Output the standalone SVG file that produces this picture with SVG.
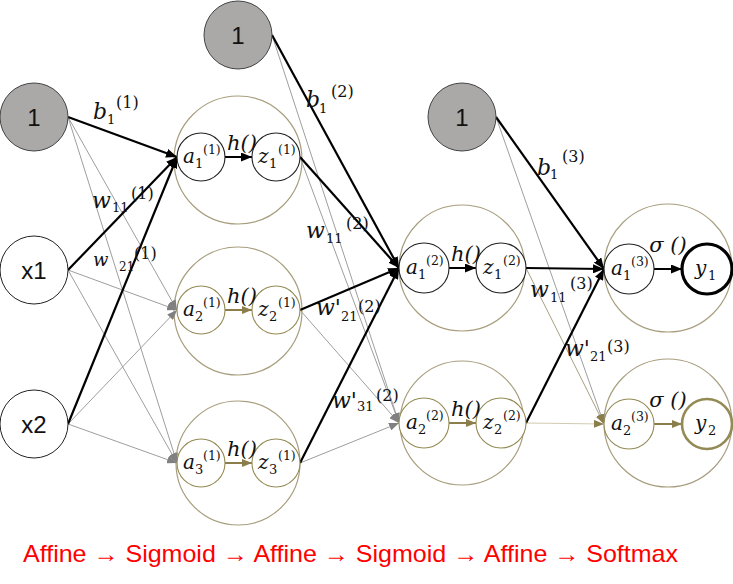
<svg xmlns="http://www.w3.org/2000/svg" width="733" height="584" viewBox="0 0 733 584">
<style>
.bg{fill:#fff}
.in{fill:#fff;stroke:#222;stroke-width:1}
.gr{fill:#ABA8A8;stroke:#444;stroke-width:1}
.big{fill:none;stroke:#A89E7E;stroke-width:1.2}
.ib{fill:#fff;stroke:#222;stroke-width:1.1}
.io{fill:#fff;stroke:#948A54;stroke-width:1.1}
.yb{fill:#fff;stroke:#000;stroke-width:3.2}
.yo{fill:#fff;stroke:#948A54;stroke-width:2.6}
.kb{stroke:#000;stroke-width:2.2;fill:none}
.kg{stroke:#9E9E9E;stroke-width:1;fill:none}
.kt{stroke:#A89E7E;stroke-width:1;fill:none}
.kl{stroke:#D2CBB2;stroke-width:1;fill:none}
.ab{stroke:#000;stroke-width:2;fill:none}
.ao{stroke:#8C7E4B;stroke-width:2;fill:none}
.nt{font-family:"Liberation Sans","Noto Sans",sans-serif;font-size:24px;fill:#111;text-anchor:middle}
.v{font-family:"DejaVu Serif",serif;font-style:italic;font-size:22px;fill:#111}
.vs{font-family:"DejaVu Serif",serif;font-style:italic;font-size:18px;fill:#111}
.va{font-family:"DejaVu Serif",serif;font-style:italic;font-size:20px;fill:#111}
.s{font-family:"DejaVu Serif",serif;font-size:13px;fill:#111}
.ss{font-family:"DejaVu Serif",serif;font-size:12px;fill:#111}
.p{font-family:"DejaVu Serif",serif;font-size:16px;fill:#111}
.pi{font-family:"DejaVu Serif",serif;font-size:12.5px;fill:#111}
.si{font-family:"DejaVu Serif",serif;font-size:13px;fill:#111}
.fn{font-family:"DejaVu Serif",serif;font-style:italic;font-size:21px;fill:#111;text-anchor:middle}
.cap{font-family:"Liberation Sans","Noto Sans",sans-serif;font-size:24px;fill:#FF0000}
</style>
<defs>
<marker id="mb" markerUnits="userSpaceOnUse" markerWidth="11" markerHeight="9" refX="11" refY="4.5" orient="auto"><path d="M0,0 L11,4.5 L0,9 z" fill="#000"/></marker>
<marker id="mg" markerUnits="userSpaceOnUse" markerWidth="10" markerHeight="8" refX="10" refY="4" orient="auto"><path d="M0,0 L10,4 L0,8 z" fill="#808080"/></marker>
<marker id="mo" markerUnits="userSpaceOnUse" markerWidth="10" markerHeight="8" refX="10" refY="4" orient="auto"><path d="M0,0 L10,4 L0,8 z" fill="#8C7E4B"/></marker>
</defs>
<rect class="bg" x="0" y="0" width="733" height="584"/>

<g id="layer-circles">
<circle class="big" cx="238" cy="160" r="64"/>
<circle class="big" cx="238" cy="311" r="64"/>
<circle class="big" cx="238" cy="463" r="62"/>
<circle class="big" cx="462" cy="268" r="63"/>
<circle class="big" cx="462" cy="423" r="62"/>
<circle class="big" cx="668" cy="268" r="64"/>
<circle class="big" cx="668" cy="423" r="64"/>
</g>

<g id="connectors">
<line class="kg" x1="68" y1="117" x2="177" y2="310" marker-end="url(#mg)"/>
<line class="kg" x1="68" y1="117" x2="177" y2="463" marker-end="url(#mg)"/>
<line class="kg" x1="68" y1="270" x2="177" y2="310" marker-end="url(#mg)"/>
<line class="kg" x1="68" y1="270" x2="177" y2="463" marker-end="url(#mg)"/>
<line class="kg" x1="68" y1="424" x2="177" y2="310" marker-end="url(#mg)"/>
<line class="kg" x1="68" y1="424" x2="177" y2="463" marker-end="url(#mg)"/>
<line class="kb" x1="68" y1="117" x2="177" y2="157" marker-end="url(#mb)"/>
<line class="kb" x1="68" y1="270" x2="177" y2="157" marker-end="url(#mb)"/>
<line class="kb" x1="68" y1="424" x2="177" y2="157" marker-end="url(#mb)"/>
<line class="kg" x1="272" y1="35" x2="399" y2="423" marker-end="url(#mg)"/>
<line class="kg" x1="300" y1="157" x2="399" y2="423" marker-end="url(#mg)"/>
<line class="kg" x1="300" y1="310" x2="399" y2="423" marker-end="url(#mg)"/>
<line class="kg" x1="300" y1="463" x2="399" y2="423" marker-end="url(#mg)"/>
<line class="kb" x1="272" y1="35" x2="399" y2="268" marker-end="url(#mb)"/>
<line class="kb" x1="300" y1="157" x2="399" y2="268" marker-end="url(#mb)"/>
<line class="kb" x1="300" y1="310" x2="399" y2="268" marker-end="url(#mb)"/>
<line class="kb" x1="300" y1="463" x2="399" y2="268" marker-end="url(#mb)"/>
<line class="kg" x1="496" y1="117" x2="604" y2="424" marker-end="url(#mg)"/>
<line class="kt" x1="526" y1="268" x2="604" y2="424" marker-end="url(#mo)"/>
<line class="kl" x1="526" y1="423" x2="604" y2="424" marker-end="url(#mo)"/>
<line class="kb" x1="496" y1="117" x2="604" y2="269" marker-end="url(#mb)"/>
<line class="kb" x1="526" y1="268" x2="604" y2="269" marker-end="url(#mb)"/>
<line class="kb" x1="526" y1="423" x2="604" y2="269" marker-end="url(#mb)"/>
<line class="ab" x1="225" y1="157" x2="252" y2="157" marker-end="url(#mb)"/>
<line class="ao" x1="225" y1="310" x2="252" y2="310" marker-end="url(#mo)"/>
<line class="ao" x1="225" y1="463" x2="252" y2="463" marker-end="url(#mo)"/>
<line class="ab" x1="449" y1="268" x2="476" y2="268" marker-end="url(#mb)"/>
<line class="ao" x1="449" y1="423" x2="476" y2="423" marker-end="url(#mo)"/>
<line class="ab" x1="654" y1="269" x2="682" y2="269" marker-end="url(#mb)"/>
<line class="ao" x1="654" y1="424" x2="682" y2="424" marker-end="url(#mo)"/>
</g>

<g id="bias0"><circle class="gr" cx="34" cy="117" r="34"/><text class="nt" x="34" y="126">1</text></g>
<g id="x1"><circle class="in" cx="34" cy="270" r="34"/><text class="nt" x="34" y="279">x1</text></g>
<g id="x2"><circle class="in" cx="34" cy="424" r="34"/><text class="nt" x="34" y="433">x2</text></g>
<g id="bias1"><circle class="gr" cx="238" cy="35" r="34"/><text class="nt" x="238" y="44">1</text></g>
<g id="bias2"><circle class="gr" cx="462" cy="117" r="34"/><text class="nt" x="462" y="126">1</text></g>

<g id="a1_1"><circle class="ib" cx="201" cy="157" r="24"/><text><tspan class="va" x="183" y="163">a</tspan><tspan class="si" x="195" y="168">1</tspan><tspan class="pi" x="203" y="154">(1)</tspan></text></g>
<g id="z1_1"><circle class="ib" cx="276" cy="157" r="24"/><text><tspan class="va" x="258" y="163">z</tspan><tspan class="si" x="269" y="168">1</tspan><tspan class="pi" x="278" y="154">(1)</tspan></text></g>
<text class="fn" x="242" y="150">h()</text>
<g id="a2_1"><circle class="io" cx="201" cy="310" r="24"/><text><tspan class="va" x="183" y="316">a</tspan><tspan class="si" x="195" y="321">2</tspan><tspan class="pi" x="203" y="307">(1)</tspan></text></g>
<g id="z2_1"><circle class="io" cx="276" cy="310" r="24"/><text><tspan class="va" x="258" y="316">z</tspan><tspan class="si" x="269" y="321">2</tspan><tspan class="pi" x="278" y="307">(1)</tspan></text></g>
<text class="fn" x="242" y="303">h()</text>
<g id="a3_1"><circle class="io" cx="201" cy="463" r="24"/><text><tspan class="va" x="183" y="469">a</tspan><tspan class="si" x="195" y="474">3</tspan><tspan class="pi" x="203" y="460">(1)</tspan></text></g>
<g id="z3_1"><circle class="io" cx="276" cy="463" r="24"/><text><tspan class="va" x="258" y="469">z</tspan><tspan class="si" x="269" y="474">3</tspan><tspan class="pi" x="278" y="460">(1)</tspan></text></g>
<text class="fn" x="242" y="456">h()</text>

<g id="a1_2"><circle class="ib" cx="424" cy="268" r="25"/><text><tspan class="va" x="406" y="274">a</tspan><tspan class="si" x="418" y="279">1</tspan><tspan class="pi" x="426" y="265">(2)</tspan></text></g>
<g id="z1_2"><circle class="ib" cx="501" cy="268" r="25"/><text><tspan class="va" x="483" y="274">z</tspan><tspan class="si" x="494" y="279">1</tspan><tspan class="pi" x="503" y="265">(2)</tspan></text></g>
<text class="fn" x="466" y="261">h()</text>
<g id="a2_2"><circle class="io" cx="424" cy="423" r="25"/><text><tspan class="va" x="406" y="429">a</tspan><tspan class="si" x="418" y="434">2</tspan><tspan class="pi" x="426" y="420">(2)</tspan></text></g>
<g id="z2_2"><circle class="io" cx="501" cy="423" r="25"/><text><tspan class="va" x="483" y="429">z</tspan><tspan class="si" x="494" y="434">2</tspan><tspan class="pi" x="503" y="420">(2)</tspan></text></g>
<text class="fn" x="466" y="416">h()</text>

<g id="a1_3"><circle class="ib" cx="629" cy="269" r="25"/><text><tspan class="va" x="611" y="275">a</tspan><tspan class="si" x="623" y="280">1</tspan><tspan class="pi" x="631" y="266">(3)</tspan></text></g>
<g id="y1"><circle class="yb" cx="707" cy="269" r="25"/><text><tspan class="va" x="695" y="275">y</tspan><tspan class="si" x="708" y="280">1</tspan></text></g>
<text class="fn" x="668" y="252">σ ()</text>
<g id="a2_3"><circle class="io" cx="629" cy="424" r="25"/><text><tspan class="va" x="611" y="430">a</tspan><tspan class="si" x="623" y="435">2</tspan><tspan class="pi" x="631" y="421">(3)</tspan></text></g>
<g id="y2"><circle class="yo" cx="707" cy="424" r="25"/><text><tspan class="va" x="695" y="430">y</tspan><tspan class="si" x="708" y="435">2</tspan></text></g>
<text class="fn" x="668" y="407">σ ()</text>

<g id="edge-labels">
<text><tspan class="v" x="93" y="119">b</tspan><tspan class="s" x="107" y="124">1</tspan><tspan class="p" x="116" y="108">(1)</tspan></text>
<text><tspan class="v" x="92" y="208">w</tspan><tspan class="s" x="112" y="212">11</tspan><tspan class="p" x="131" y="199">(1)</tspan></text>
<text><tspan class="vs" x="93" y="266">w</tspan><tspan class="ss" x="119" y="271">21</tspan><tspan class="p" x="134" y="259">(1)</tspan></text>
<text><tspan class="v" x="306" y="107">b</tspan><tspan class="s" x="319" y="113">1</tspan><tspan class="p" x="331" y="97">(2)</tspan></text>
<text><tspan class="v" x="306" y="238">w</tspan><tspan class="s" x="326" y="243">11</tspan><tspan class="p" x="346" y="229">(2)</tspan></text>
<text><tspan class="v" x="316" y="315">w'</tspan><tspan class="s" x="341" y="321">21</tspan><tspan class="p" x="358" y="312">(2)</tspan></text>
<text><tspan class="v" x="332" y="408">w'</tspan><tspan class="s" x="357" y="411">31</tspan><tspan class="p" x="376" y="401">(2)</tspan></text>
<text><tspan class="v" x="537" y="175">b</tspan><tspan class="s" x="550" y="179">1</tspan><tspan class="p" x="562" y="162">(3)</tspan></text>
<text><tspan class="v" x="530" y="297">w</tspan><tspan class="s" x="550" y="302">11</tspan><tspan class="p" x="570" y="289">(3)</tspan></text>
<text><tspan class="v" x="565" y="356">w'</tspan><tspan class="s" x="590" y="361">21</tspan><tspan class="p" x="607" y="352">(3)</tspan></text>
</g>

<text class="cap" x="23" y="562" textLength="655" lengthAdjust="spacingAndGlyphs">Affine → Sigmoid → Affine → Sigmoid → Affine → Softmax</text>
</svg>
